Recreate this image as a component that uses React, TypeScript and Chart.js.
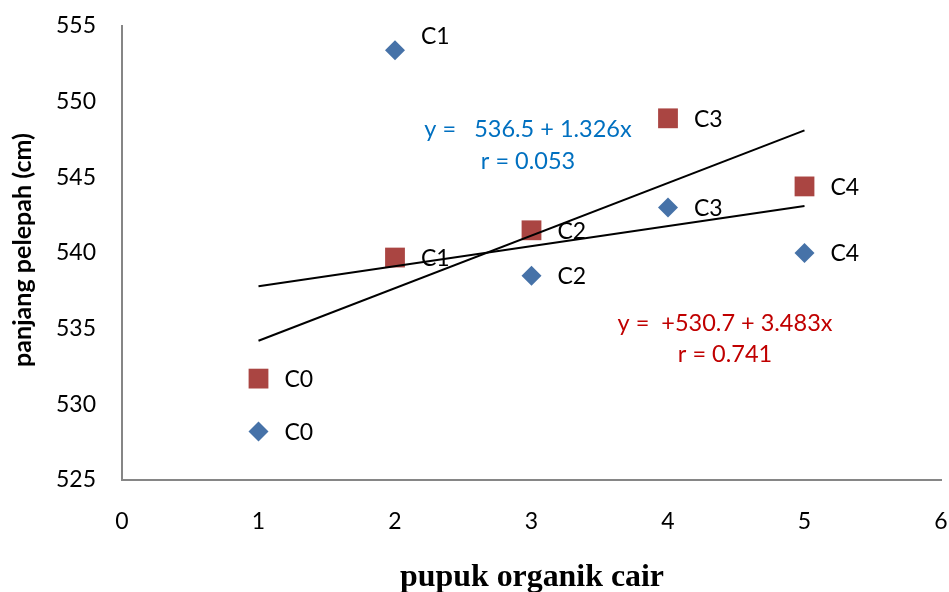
import React, { useEffect, useRef } from "react";
import { Chart, registerables } from "chart.js";

Chart.register(...registerables);

const treatments = ["C0", "C1", "C2", "C3", "C4"];
const doses = [1, 2, 3, 4, 5];
const seriesA = [528.2, 553.4, 538.5, 543.0, 540.0]; // blue diamonds
const seriesB = [531.7, 539.7, 541.5, 548.9, 544.4]; // red squares
const trendX = [1, 5];
const trendA = [537.8, 543.1];
const trendB = [534.2, 548.1];
const xTicks = [0, 1, 2, 3, 4, 5, 6];
const yTicks = [525, 530, 535, 540, 545, 550, 555];
const eqA = ["y =   536.5 + 1.326x", "r = 0.053"];
const eqB = ["y =  +530.7 + 3.483x", "r = 0.741"];
const xTitle = "pupuk organik cair";
const yTitle = "panjang pelepah (cm)";

const BLUE = "#4672A8";
const RED = "#AA4542";
const SANS = "Lato, 'Open Sans', sans-serif";
const SERIF = "'Liberation Serif', 'Times New Roman', serif";

function fitFont(ctx: any, text: string, weight: string, family: string, target: number) {
  ctx.font = `${weight} 20px ${family}`;
  const w = ctx.measureText(text).width;
  const size = (20 * target) / w;
  ctx.font = `${weight} ${size.toFixed(2)}px ${family}`;
}

const overlay = {
  id: "overlay",
  afterDatasetsDraw(chart: any) {
    const ctx = chart.ctx;
    const xs = chart.scales.x;
    const ys = chart.scales.y;
    ctx.save();
    ctx.font = `23px ${SANS}`;
    ctx.fillStyle = "#000";
    ctx.textAlign = "left";
    ctx.textBaseline = "middle";
    const drawLabels = (vals: number[], dyFn: (i: number) => number) => {
      vals.forEach((v, i) => {
        const px = xs.getPixelForValue(doses[i]);
        const py = ys.getPixelForValue(v);
        ctx.fillText(treatments[i], px + 26, py + dyFn(i));
      });
    };
    drawLabels(seriesA, (i) => (i === 1 ? -14 : 1));
    drawLabels(seriesB, () => 1);

    ctx.textAlign = "center";
    ctx.font = `23.5px ${SANS}`;
    ctx.fillStyle = "#0070C0";
    ctx.fillText(eqA[0], 528, 129);
    ctx.fillText(eqA[1], 528, 161);
    ctx.fillStyle = "#C00000";
    ctx.fillText(eqB[0], 725, 323);
    ctx.fillText(eqB[1], 725, 354);

    ctx.fillStyle = "#000";
    fitFont(ctx, xTitle, "bold", SERIF, 264);
    ctx.fillText(xTitle, 532, 578);

    ctx.save();
    ctx.translate(23, 250);
    ctx.rotate(-Math.PI / 2);
    fitFont(ctx, yTitle, "bold", SANS, 234);
    ctx.fillText(yTitle, 0, 0);
    ctx.restore();
    ctx.restore();
  },
};

export default function App() {
  const ref = useRef<HTMLCanvasElement>(null);
  useEffect(() => {
    document.body.style.margin = "0";
    const chart = new Chart(ref.current!, {
      type: "scatter",
      data: {
        datasets: [
          {
            label: "A",
            data: doses.map((x, i) => ({ x, y: seriesA[i] })),
            pointStyle: "rectRot",
            pointRadius: 10,
            backgroundColor: BLUE,
            borderWidth: 0,
            order: 1,
          },
          {
            label: "B",
            data: doses.map((x, i) => ({ x, y: seriesB[i] })),
            pointStyle: "rect",
            pointRadius: 14,
            backgroundColor: RED,
            borderWidth: 0,
            order: 1,
          },
          {
            type: "line",
            label: "trendA",
            data: trendX.map((x, i) => ({ x, y: trendA[i] })),
            borderColor: "#000",
            borderWidth: 2,
            pointRadius: 0,
            showLine: true,
            fill: false,
            order: 0,
          } as any,
          {
            type: "line",
            label: "trendB",
            data: trendX.map((x, i) => ({ x, y: trendB[i] })),
            borderColor: "#000",
            borderWidth: 2,
            pointRadius: 0,
            showLine: true,
            fill: false,
            order: 0,
          } as any,
        ],
      },
      options: {
        responsive: false,
        animation: false,
        devicePixelRatio: 1,
        layout: { autoPadding: false, padding: { top: 26, right: 8, left: 0, bottom: 0 } },
        plugins: { legend: { display: false }, tooltip: { enabled: false } },
        scales: {
          x: {
            type: "linear",
            min: 0,
            max: 6,
            afterBuildTicks: (s: any) => {
              s.ticks = xTicks.map((v) => ({ value: v }));
            },
            afterFit: (s: any) => {
              s.height = 112;
              s.paddingLeft = 0;
              s.paddingRight = 0;
            },
            grid: { display: false, drawTicks: false, tickLength: 0 },
            border: { display: true, color: "#868686", width: 2 },
            ticks: { padding: 28, color: "#000", font: { family: SANS, size: 23 } },
          },
          y: {
            type: "linear",
            min: 525,
            max: 555,
            afterBuildTicks: (s: any) => {
              s.ticks = yTicks.map((v) => ({ value: v }));
            },
            afterFit: (s: any) => {
              s.width = 122;
              s.paddingTop = 0;
              s.paddingBottom = 0;
            },
            grid: { display: false, drawTicks: false, tickLength: 0 },
            border: { display: true, color: "#868686", width: 2 },
            ticks: { padding: 26, color: "#000", font: { family: SANS, size: 23 } },
          },
        },
      },
      plugins: [overlay],
    });
    return () => chart.destroy();
  }, []);
  return (
    <div style={{ position: "absolute", left: 0, top: 0, width: 949, height: 592, background: "#fff" }}>
      <canvas ref={ref} width={949} height={592} />
    </div>
  );
}
